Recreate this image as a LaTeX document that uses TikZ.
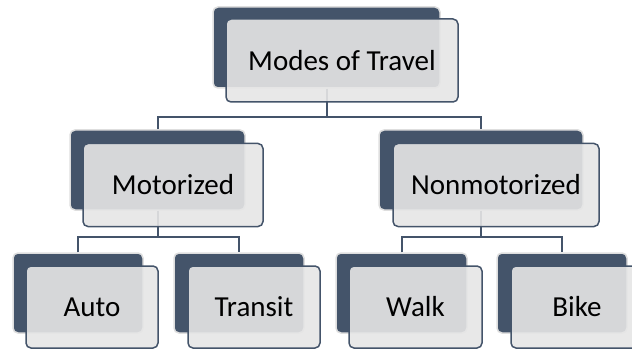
\documentclass[tikz,border=0pt]{standalone}
\usepackage{fontspec}
\setmainfont{Carlito}
\definecolor{navy}{RGB}{68,84,106}
\definecolor{glassfill}{RGB}{230,230,230}
\definecolor{glow}{RGB}{222,222,222}
\begin{document}
\begin{tikzpicture}[x=1pt,y=1pt,
  darkbox/.style={draw=glow, line width=1.5pt, fill=navy, rounded corners=5pt, inner sep=0pt},
  frontbox/.style={draw=navy, line width=1.5pt, fill=glassfill, fill opacity=0.9, text opacity=1, rounded corners=5pt, inner sep=0pt, font=\fontsize{29}{34}\selectfont, text=black},
  conn/.style={draw=navy, line width=2pt}]
\useasboundingbox (0,0) rectangle (632,-350);
% dark back boxes
\node[darkbox, minimum width=227pt, minimum height=81pt] (topd) at (326.5,-47.5) {};
\node[darkbox, minimum width=175pt, minimum height=80pt] (motd) at (157.5,-170) {};
\node[darkbox, minimum width=204pt, minimum height=80pt] (nond) at (481,-170) {};
\node[darkbox, minimum width=130pt, minimum height=80pt] (autod) at (78,-293) {};
\node[darkbox, minimum width=130pt, minimum height=80pt] (trad) at (239,-293) {};
\node[darkbox, minimum width=131pt, minimum height=80pt] (walkd) at (401.5,-293) {};
\node[darkbox, minimum width=130pt, minimum height=80pt] (biked) at (562,-293) {};
% connectors
\coordinate (j1) at (326.5,-117);
\coordinate (j2) at (157.5,-237);
\coordinate (j3) at (481,-237);
\draw[conn] (topd.south) -- (j1);
\draw[conn] (motd.north) |- (j1) -| (nond.north);
\draw[conn] (motd.south) -- (j2);
\draw[conn] (autod.north) |- (j2) -| (trad.north);
\draw[conn] (nond.south) -- (j3);
\draw[conn] (walkd.north) |- (j3) -| (biked.north);
% front glass boxes
\node[frontbox, minimum width=232pt, minimum height=83pt] (topf) at (342,-60.5) {Modes of Travel};
\node[frontbox, minimum width=180pt, minimum height=83pt] (motf) at (173,-185) {Motorized};
\node[frontbox, minimum width=206pt, minimum height=83pt] (nonf) at (496,-185) {Nonmotorized};
\node[frontbox, minimum width=132pt, minimum height=82pt] (autof) at (92,-307) {Auto};
\node[frontbox, minimum width=132pt, minimum height=82pt] (traf) at (254,-307) {Transit};
\node[frontbox, minimum width=133pt, minimum height=82pt] (walkf) at (415.5,-307) {Walk};
\node[frontbox, minimum width=132pt, minimum height=82pt] (bikef) at (577,-307) {Bike};
\end{tikzpicture}
\end{document}
